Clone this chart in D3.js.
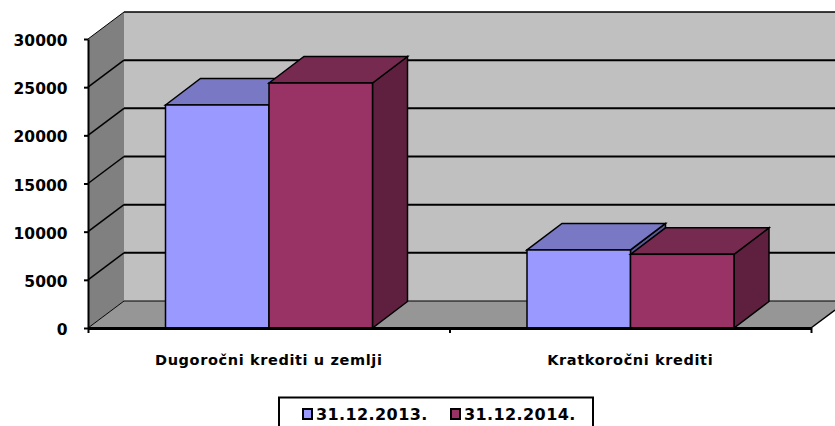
<!DOCTYPE html>
<html><head><meta charset="utf-8">
<script src="https://cdn.jsdelivr.net/npm/d3@7"></script>
<style>html,body{margin:0;padding:0;background:#fff}svg{display:block}text{font-family:"DejaVu Sans",sans-serif;font-weight:bold;fill:#000}</style>
</head><body><svg id="c" width="835" height="426"></svg>
<script>
const categories = ["Dugoročni krediti u zemlji", "Kratkoročni krediti"];
const seriesNames = ["31.12.2013.", "31.12.2014."];
const values2013 = [23150, 8100];
const values2014 = [25430, 7650];
const yTicks = [0, 5000, 10000, 15000, 20000, 25000, 30000];
const colors = {front:["#9999ff","#993366"], top:["#7878c4","#772a50"], side:["#5a5a99","#5f203f"]};

const svg = d3.select("#c");
const W=835;
const x0 = d3.scaleBand().domain(categories).range([88,811]).paddingInner(0).paddingOuter(0);
const y = d3.scaleLinear().domain([0,30000]).range([328,39]);
const x1 = d3.scaleBand().domain(seriesNames).range([77.5,284.5]);
const wdx=36, wdy=-27, bdx=35, bdy=-26.5;
const pts=a=>a.map(p=>p.join(",")).join(" ");
const y0=y(0), yT=y(30000), xL=x0.range()[0], xR=x0.range()[1];

// back wall
svg.append("polygon").attr("points",pts([[xL+wdx,yT+wdy],[W,yT+wdy],[W,y0+wdy],[xL+wdx,y0+wdy]])).attr("fill","#c0c0c0");
// side wall
svg.append("polygon").attr("points",pts([[xL,y0],[xL,yT],[xL+wdx,yT+wdy],[xL+wdx,y0+wdy]])).attr("fill","#808080");
// floor
svg.append("polygon").attr("points",pts([[xL,y0],[xL+wdx,y0+wdy],[W,y0+wdy],[W,y0-18],[xR,y0]])).attr("fill","#969696");

// gridlines
yTicks.forEach(t=>{
  const yy=y(t);
  const sw=t===0?1:2;
  svg.append("line").attr("x1",xL+wdx).attr("x2",W).attr("y1",yy+wdy).attr("y2",yy+wdy).attr("stroke","#000").attr("stroke-width",t===30000?1.5:sw);
  if(t>0) svg.append("line").attr("x1",xL).attr("x2",xL+wdx).attr("y1",yy).attr("y2",yy+wdy).attr("stroke","#000").attr("stroke-width",t===30000?1:1.5);
});
svg.append("line").attr("x1",xL).attr("x2",xL+wdx).attr("y1",y0).attr("y2",y0+wdy).attr("stroke","#000").attr("stroke-width",1);
svg.append("line").attr("x1",xR).attr("x2",xR+24).attr("y1",y0).attr("y2",y0-18).attr("stroke","#000").attr("stroke-width",1.5);

// bars
const rows=[values2013,values2014];
categories.forEach((c,i)=>{
  seriesNames.forEach((s,j)=>{
    const v=rows[j][i], xa=x0(c)+x1(s), xb=xa+x1.bandwidth(), yt=y(v);
    const g=svg.append("g").attr("stroke","#000").attr("stroke-width",1.5).attr("stroke-linejoin","miter");
    g.append("polygon").attr("points",pts([[xb,y0],[xb,yt],[xb+bdx,yt+bdy],[xb+bdx,y0+bdy]])).attr("fill",colors.side[j]);
    g.append("polygon").attr("points",pts([[xa,yt],[xa+bdx,yt+bdy],[xb+bdx,yt+bdy],[xb,yt]])).attr("fill",colors.top[j]);
    g.append("rect").attr("x",xa).attr("y",yt).attr("width",x1.bandwidth()).attr("height",y0-yt).attr("fill",colors.front[j]);
  });
});

// axes
const ya=svg.append("g").attr("transform",`translate(${xL},0)`).call(d3.axisLeft(y).tickValues(yTicks).tickSize(4).tickSizeOuter(0).tickFormat(d3.format("d")).tickPadding(16.5));
ya.select(".domain").attr("stroke","#000").attr("stroke-width",2);
ya.selectAll("line").attr("stroke","#000").attr("stroke-width",2);
ya.selectAll("text").attr("dy","0.42em").style("font-size","15.5px").style("font-family","'DejaVu Sans'").style("font-weight","bold");

const xa=svg.append("g").attr("transform",`translate(0,${y0})`).call(d3.axisBottom(d3.scaleLinear().domain([0,2]).range([xL,xR])).tickValues([0,1,2]).tickSize(5).tickSizeOuter(0).tickFormat(""));
xa.select(".domain").attr("stroke","#000").attr("stroke-width",3);
xa.selectAll("line").attr("stroke","#000").attr("stroke-width",2);

svg.selectAll(".cat").data(categories).enter().append("text").attr("class","cat")
  .attr("x",d=>x0(d)+x0.bandwidth()/2).attr("y",365).attr("text-anchor","middle").style("font-size","14.5px").style("letter-spacing","0.62px").text(d=>d);

// legend
svg.append("rect").attr("x",279).attr("y",397.5).attr("width",314).attr("height",40).attr("fill","#fff").attr("stroke","#000").attr("stroke-width",2);
const lx=[303,451];
seriesNames.forEach((s,j)=>{
  svg.append("rect").attr("x",lx[j]).attr("y",409).attr("width",9).attr("height",10).attr("fill",colors.front[j]).attr("stroke","#000").attr("stroke-width",2);
  svg.append("text").attr("x",lx[j]+13).attr("y",420).style("font-size","16px").style("letter-spacing","0.4px").text(s);
});
</script></body></html>
